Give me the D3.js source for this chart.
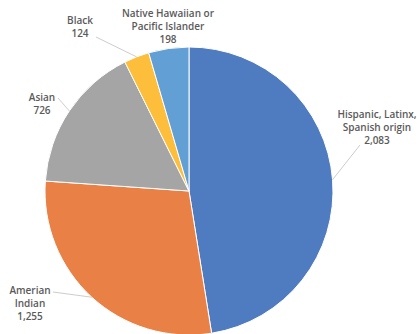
<!DOCTYPE html>
<html>
<head>
<meta charset="utf-8">
<script src="https://cdn.jsdelivr.net/npm/d3@7"></script>
<style>
  html, body { margin: 0; padding: 0; background: #fff; }
  svg text { font-family: "Open Sans", "Liberation Sans", sans-serif; font-size: 10px; font-weight: 600; fill: #5a5a5a; }
</style>
</head>
<body>
<svg id="chart" width="417" height="334"></svg>
<script>
// Enrollment by group
const categories = [
  ["Hispanic, Latinx,", "Spanish origin"],
  ["Amerian", "Indian"],
  ["Asian"],
  ["Black"],
  ["Native Hawaiian or", "Pacific Islander"]
];
const values = [2083, 1255, 726, 124, 198];
const colors = ["#4F7BC0", "#E98146", "#A5A5A5", "#FDBE3B", "#619FD5"];

// label block placement (centre x, first baseline y) and leader-line end, if any
const labelLayout = [
  { x: 377, y: 118, lead: [360, 145] },
  { x: 30,  y: 294, lead: [53, 292] },
  { x: 42,  y: 101, lead: [58, 98] },
  { x: 80,  y: 24,  lead: [96, 37] },
  { x: 168, y: 17,  lead: null }
];

const svg = d3.select("#chart");
const cx = 189, cy = 191, radius = 144;
const fmt = d3.format(",");

const data = values.map((v, i) => ({ name: categories[i], value: v, color: colors[i], layout: labelLayout[i] }));

const pie = d3.pie().sort(null).value(d => d.value);
const arc = d3.arc().innerRadius(0).outerRadius(radius);
const arcs = pie(data);

const g = svg.append("g").attr("transform", `translate(${cx},${cy})`);
g.selectAll("path")
  .data(arcs)
  .join("path")
  .attr("d", arc)
  .attr("fill", d => d.data.color)
  .attr("stroke", "#fff")
  .attr("stroke-width", 1);

// leader lines from the slice edge at its middle angle
arcs.forEach(a => {
  const L = a.data.layout;
  if (!L.lead) return;
  const mid = (a.startAngle + a.endAngle) / 2;
  const px = cx + radius * Math.sin(mid);
  const py = cy - radius * Math.cos(mid);
  svg.append("line")
    .attr("x1", L.lead[0]).attr("y1", L.lead[1])
    .attr("x2", px).attr("y2", py)
    .attr("stroke", "#bfbfbf").attr("stroke-width", 0.8);
});

// labels: category lines followed by the value
arcs.forEach(a => {
  const L = a.data.layout;
  const lines = a.data.name.concat([fmt(a.data.value)]);
  const t = svg.append("text").attr("text-anchor", "middle");
  lines.forEach((s, k) => {
    t.append("tspan").attr("x", L.x).attr("y", L.y + k * 13).text(s);
  });
});
</script>
</body>
</html>
